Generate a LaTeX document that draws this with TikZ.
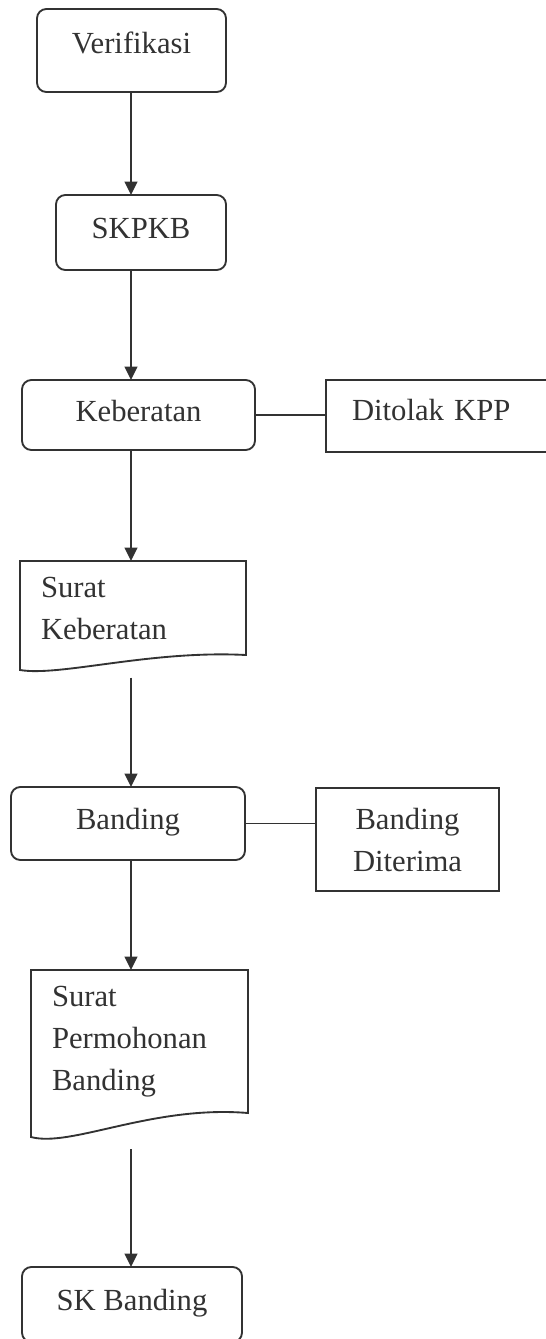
\documentclass[tikz,border=0pt]{standalone}
\usepackage{fontspec}
\setmainfont{Liberation Serif}
\usetikzlibrary{arrows.meta, calc, positioning}
\definecolor{InkColor}{RGB}{50,50,50}
\tikzstyle{boxline} = [draw=InkColor, line width=1.4pt]
\tikzstyle{arrow} = [boxline, -{Triangle[length=10pt, width=9.5pt]}]
\tikzstyle{procbox} = [boxline, rounded corners=7pt, outer sep=0pt, text=InkColor, font=\fontsize{23}{31.5}\selectfont, text height=16pt, text depth=7pt]
\tikzstyle{outbox} = [boxline, outer sep=0pt, text=InkColor, font=\fontsize{23}{31.5}\selectfont]
\tikzstyle{docbox} = [outer sep=0pt, text=InkColor, font=\fontsize{23}{31.5}\selectfont, align=left, inner xsep=15.75pt]

% wavy bottom of a document node: #1 node name, #2 dip below its south side
\newcommand{\docoutline}[2]{%
  \draw[boxline] (#1.north west) -- (#1.north east) -- (#1.south east)
    .. controls ($(#1.south east)+(-96,-#2/3)$) and ($(#1.south west)+(40,1.45*#2)$) .. ($(#1.south west)+(0,#2)$) -- cycle;
  \coordinate (#1-foot) at ($(#1.south west)+(0,1.5*#2)$);
}

\begin{document}
\begin{tikzpicture}[x=0.75pt, y=-0.75pt]
  \useasboundingbox (0,0) rectangle (546,1339);
  \coordinate (spine) at (131,0);

  \node[procbox, minimum width=141.75pt, minimum height=62.25pt, text depth=11pt] (verif) at (131.5,50.5) {Verifikasi};
  \node[procbox, minimum width=127.5pt, minimum height=56.25pt] (skpkb) at (141,232.5) {SKPKB};
  \node[procbox, minimum width=174.75pt, minimum height=52.5pt] (keb) at (138.5,415) {Keberatan};
  \node[outbox, minimum width=183pt, minimum height=54pt, text width=144pt, inner xsep=19.5pt, align=left, text height=16pt, text depth=9pt] (tolak) at (448,416) {Ditolak KPP};
  \node[docbox, minimum height=70.5pt, text width=138pt] (suratkeb) at (133,608) {Surat\\Keberatan};
  \node[procbox, minimum width=175.5pt, minimum height=54.75pt] (banding) at (128,823.5) {Banding};
  \node[outbox, minimum width=137.25pt, minimum height=77.25pt, align=center] (diterima) at (407.5,839.5) {Banding\\Diterima};
  \node[docbox, minimum height=107.25pt, text width=131.25pt] (suratpb) at (139.5,1041.5) {Surat\\Permohonan\\Banding};
  \node[procbox, minimum width=165pt, minimum height=56.25pt] (skband) at (132,1304.5) {SK Banding};

  \docoutline{suratkeb}{15}
  \docoutline{suratpb}{24}

  \draw[arrow] (verif.south -| spine) -- (skpkb.north -| spine);
  \draw[arrow] (skpkb.south -| spine) -- (keb.north -| spine);
  \draw[boxline] (keb.east) -- (keb.east -| tolak.west);
  \draw[arrow] (keb.south -| spine) -- (suratkeb.north -| spine);
  \draw[arrow] (suratkeb-foot -| spine) -- (banding.north -| spine);
  \draw[boxline] (banding.east) -- (banding.east -| diterima.west);
  \draw[arrow] (banding.south -| spine) -- (suratpb.north -| spine);
  \draw[arrow] (suratpb-foot -| spine) -- (skband.north -| spine);
\end{tikzpicture}
\end{document}
